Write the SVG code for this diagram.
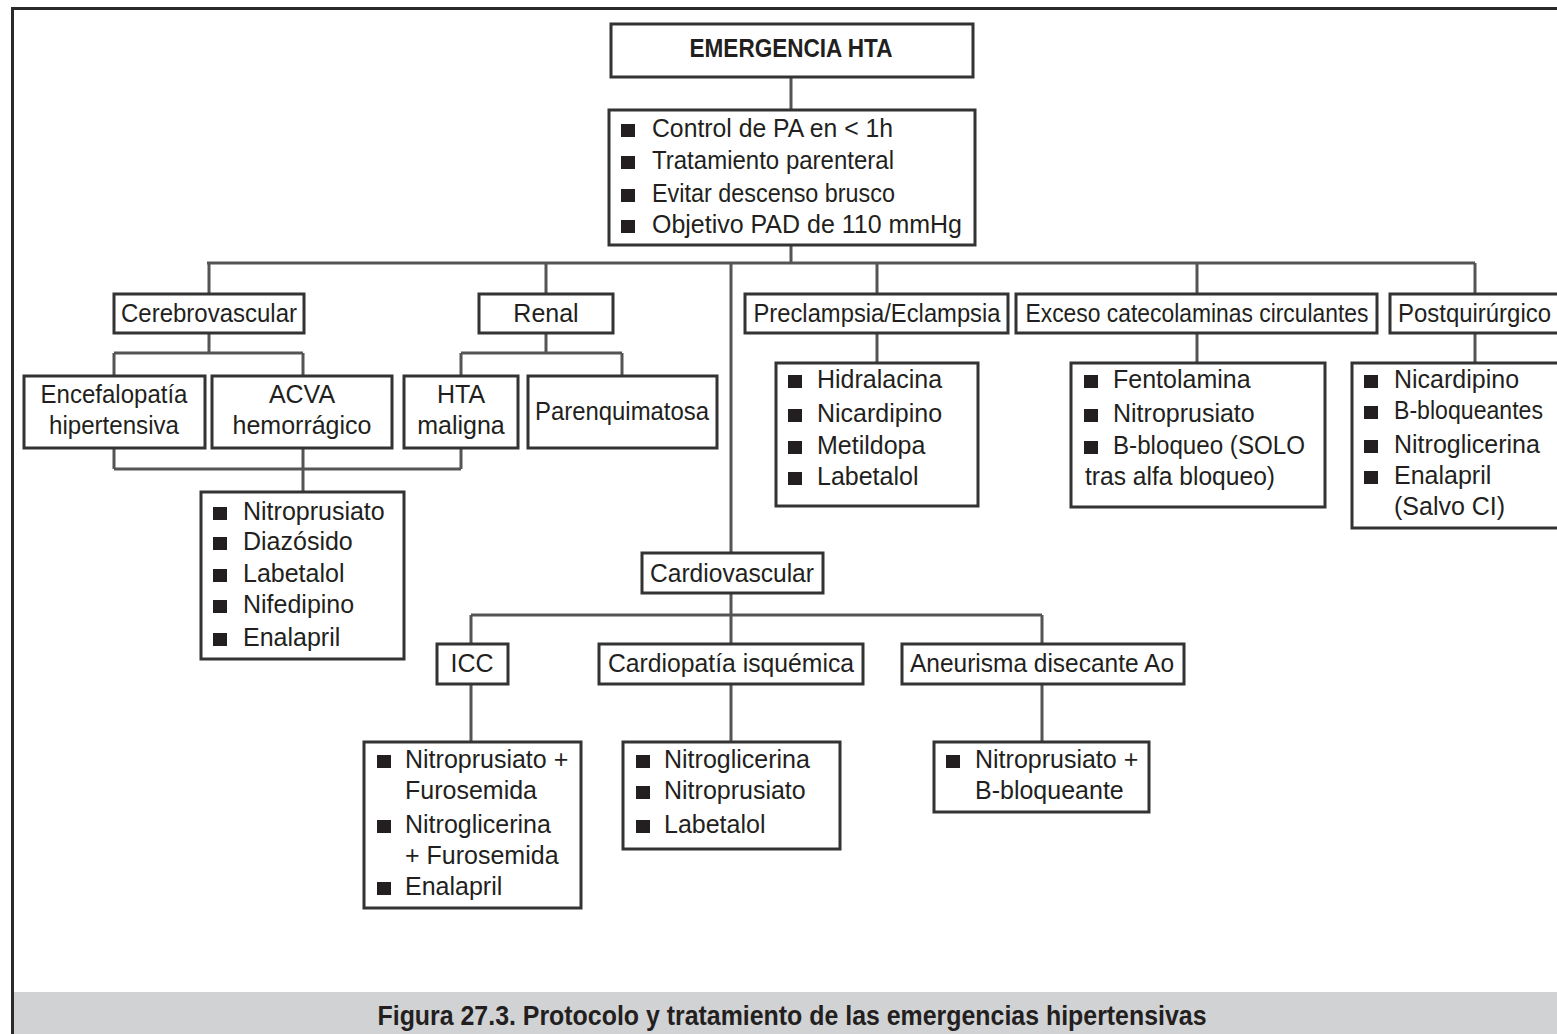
<svg xmlns="http://www.w3.org/2000/svg" width="1557" height="1034" viewBox="0 0 1557 1034">
<style>
.box{fill:#fff;stroke:#333;stroke-width:3}
.ln{stroke:#555;stroke-width:3;fill:none}
.t{font-family:"Liberation Sans",Arial,sans-serif;font-size:25px;fill:#231f20}
.c{text-anchor:middle}
.b{fill:#231f20}
</style>
<defs>
<rect id="bul" width="14" height="13" class="b"/>
</defs>
<rect x="0" y="0" width="1557" height="1034" fill="#fff"/>
<rect x="12" y="992" width="1545" height="42" fill="#d1d2d4"/>
<path d="M12.5,1034 V8.5 H1557" stroke="#2a2a2a" stroke-width="3" fill="none"/>
<text x="792" y="1025" class="t c" style="font-weight:bold;font-size:27px" textLength="829" lengthAdjust="spacingAndGlyphs">Figura 27.3. Protocolo y tratamiento de las emergencias hipertensivas</text>

<g id="connectors">
<path class="ln" d="M791,77 V110 M791,245 V263"/>
<path class="ln" d="M207,263 H1475" stroke="#222"/>
<path class="ln" d="M209,263 V293 M546,263 V293 M731,263 V553 M877,263 V293 M1197,263 V293 M1475,263 V293"/>
<path class="ln" d="M209,333 V353 M114,353 H303 M114,353 V376 M303,353 V376"/>
<path class="ln" d="M546,333 V353 M461,353 H622 M461,353 V376 M622,353 V376"/>
<path class="ln" d="M114,448 V469 M461,448 V469 M114,469 H461 M303,448 V492"/>
<path class="ln" d="M877,333 V363 M1197,333 V363 M1475,333 V363"/>
<path class="ln" d="M731,593 V615 M471,615 H1042 M471,615 V644 M731,615 V644 M1042,615 V644"/>
<path class="ln" d="M471,684 V742 M731,684 V742 M1042,684 V742"/>
</g>

<g id="emergencia">
<rect class="box" x="611" y="24" width="362" height="53"/>
<text x="791" y="57" class="t c" style="font-weight:bold" textLength="203" lengthAdjust="spacingAndGlyphs">EMERGENCIA HTA</text>
</g>
<g id="control">
<rect class="box" x="609" y="110" width="366" height="135"/>
<use href="#bul" x="621" y="124"/><text x="652" y="137" class="t" textLength="241" lengthAdjust="spacingAndGlyphs">Control de PA en &lt; 1h</text>
<use href="#bul" x="621" y="156"/><text x="652" y="169" class="t" textLength="242" lengthAdjust="spacingAndGlyphs">Tratamiento parenteral</text>
<use href="#bul" x="621" y="189"/><text x="652" y="202" class="t" textLength="243" lengthAdjust="spacingAndGlyphs">Evitar descenso brusco</text>
<use href="#bul" x="621" y="220"/><text x="652" y="233" class="t" textLength="310" lengthAdjust="spacingAndGlyphs">Objetivo PAD de 110 mmHg</text>
</g>

<g id="cerebrovascular">
<rect class="box" x="114" y="294" width="190" height="39"/>
<text x="209" y="322" class="t c" textLength="176" lengthAdjust="spacingAndGlyphs">Cerebrovascular</text>
</g>
<g id="renal">
<rect class="box" x="479" y="294" width="134" height="39"/>
<text x="546" y="322" class="t c">Renal</text>
</g>
<g id="preclampsia">
<rect class="box" x="745" y="294" width="263" height="39"/>
<text x="877" y="322" class="t c" textLength="247" lengthAdjust="spacingAndGlyphs">Preclampsia/Eclampsia</text>
</g>
<g id="exceso">
<rect class="box" x="1016" y="294" width="361" height="39"/>
<text x="1197" y="322" class="t c" textLength="343" lengthAdjust="spacingAndGlyphs">Exceso catecolaminas circulantes</text>
</g>
<g id="postquirurgico">
<rect class="box" x="1390" y="294" width="175" height="39"/>
<text x="1398" y="322" class="t" textLength="153" lengthAdjust="spacingAndGlyphs">Postquirúrgico</text>
</g>

<g id="encefalopatia">
<rect class="box" x="24" y="376" width="181" height="72"/>
<text x="114" y="403" class="t c" textLength="147" lengthAdjust="spacingAndGlyphs">Encefalopatía</text>
<text x="114" y="434" class="t c" textLength="130" lengthAdjust="spacingAndGlyphs">hipertensiva</text>
</g>
<g id="acva">
<rect class="box" x="212" y="376" width="180" height="72"/>
<text x="302" y="403" class="t c">ACVA</text>
<text x="302" y="434" class="t c">hemorrágico</text>
</g>
<g id="htamaligna">
<rect class="box" x="404" y="376" width="114" height="72"/>
<text x="461" y="403" class="t c">HTA</text>
<text x="461" y="434" class="t c">maligna</text>
</g>
<g id="parenquimatosa">
<rect class="box" x="528" y="376" width="189" height="72"/>
<text x="622" y="420" class="t c" textLength="174" lengthAdjust="spacingAndGlyphs">Parenquimatosa</text>
</g>

<g id="cerebro-farmacos">
<rect class="box" x="201" y="492" width="203" height="167"/>
<use href="#bul" x="213" y="507"/><text x="243" y="520" class="t">Nitroprusiato</text>
<use href="#bul" x="213" y="537"/><text x="243" y="550" class="t">Diazósido</text>
<use href="#bul" x="213" y="569"/><text x="243" y="582" class="t">Labetalol</text>
<use href="#bul" x="213" y="600"/><text x="243" y="613" class="t">Nifedipino</text>
<use href="#bul" x="213" y="633"/><text x="243" y="646" class="t">Enalapril</text>
</g>

<g id="preclampsia-farmacos">
<rect class="box" x="776" y="363" width="202" height="143"/>
<use href="#bul" x="788" y="375"/><text x="817" y="388" class="t">Hidralacina</text>
<use href="#bul" x="788" y="409"/><text x="817" y="422" class="t">Nicardipino</text>
<use href="#bul" x="788" y="441"/><text x="817" y="454" class="t">Metildopa</text>
<use href="#bul" x="788" y="472"/><text x="817" y="485" class="t">Labetalol</text>
</g>
<g id="exceso-farmacos">
<rect class="box" x="1071" y="363" width="254" height="144"/>
<use href="#bul" x="1084" y="375"/><text x="1113" y="388" class="t">Fentolamina</text>
<use href="#bul" x="1084" y="409"/><text x="1113" y="422" class="t">Nitroprusiato</text>
<use href="#bul" x="1084" y="441"/><text x="1113" y="454" class="t" textLength="192" lengthAdjust="spacingAndGlyphs">B-bloqueo (SOLO</text>
<text x="1085" y="485" class="t" textLength="190" lengthAdjust="spacingAndGlyphs">tras alfa bloqueo)</text>
</g>
<g id="postquirurgico-farmacos">
<rect class="box" x="1352" y="363" width="213" height="165"/>
<use href="#bul" x="1364" y="375"/><text x="1394" y="388" class="t">Nicardipino</text>
<use href="#bul" x="1364" y="406"/><text x="1394" y="419" class="t" textLength="149" lengthAdjust="spacingAndGlyphs">B-bloqueantes</text>
<use href="#bul" x="1364" y="440"/><text x="1394" y="453" class="t">Nitroglicerina</text>
<use href="#bul" x="1364" y="471"/><text x="1394" y="484" class="t">Enalapril</text>
<text x="1394" y="515" class="t">(Salvo CI)</text>
</g>

<g id="cardiovascular">
<rect class="box" x="642" y="553" width="181" height="40"/>
<text x="732" y="582" class="t c" textLength="164" lengthAdjust="spacingAndGlyphs">Cardiovascular</text>
</g>
<g id="icc">
<rect class="box" x="437" y="644" width="71" height="40"/>
<text x="472" y="672" class="t c">ICC</text>
</g>
<g id="cardiopatia">
<rect class="box" x="599" y="644" width="264" height="40"/>
<text x="731" y="672" class="t c" textLength="246" lengthAdjust="spacingAndGlyphs">Cardiopatía isquémica</text>
</g>
<g id="aneurisma">
<rect class="box" x="902" y="644" width="282" height="40"/>
<text x="1042" y="672" class="t c" textLength="264" lengthAdjust="spacingAndGlyphs">Aneurisma disecante Ao</text>
</g>

<g id="icc-farmacos">
<rect class="box" x="364" y="742" width="217" height="166"/>
<use href="#bul" x="377" y="755"/><text x="405" y="768" class="t">Nitroprusiato +</text>
<text x="405" y="799" class="t">Furosemida</text>
<use href="#bul" x="377" y="820"/><text x="405" y="833" class="t">Nitroglicerina</text>
<text x="405" y="864" class="t">+ Furosemida</text>
<use href="#bul" x="377" y="882"/><text x="405" y="895" class="t">Enalapril</text>
</g>
<g id="cardiopatia-farmacos">
<rect class="box" x="623" y="742" width="217" height="107"/>
<use href="#bul" x="636" y="755"/><text x="664" y="768" class="t">Nitroglicerina</text>
<use href="#bul" x="636" y="786"/><text x="664" y="799" class="t">Nitroprusiato</text>
<use href="#bul" x="636" y="820"/><text x="664" y="833" class="t">Labetalol</text>
</g>
<g id="aneurisma-farmacos">
<rect class="box" x="934" y="742" width="215" height="70"/>
<use href="#bul" x="946" y="755"/><text x="975" y="768" class="t">Nitroprusiato +</text>
<text x="975" y="799" class="t">B-bloqueante</text>
</g>
</svg>
